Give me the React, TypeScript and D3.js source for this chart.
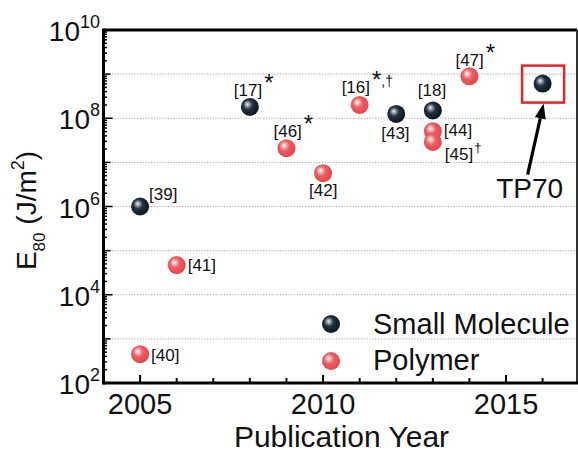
import React from "react";
import * as d3 from "d3";

// ---- data ----
const smallYears = [2005, 2008, 2012, 2013, 2016];
const smallValues = [1e6, 1.8e8, 1.25e8, 1.5e8, 6.1e8];
const smallRefs = ["[39]", "[17]", "[43]", "[18]", "TP70"];
const smallMarks = ["", "*", "", "", ""];

const polyYears = [2005, 2006, 2009, 2010, 2011, 2013, 2013, 2014];
const polyValues = [4.5e2, 4.7e4, 2.1e7, 5.7e6, 2.0e8, 5.1e7, 2.9e7, 8.9e8];
const polyRefs = ["[40]", "[41]", "[46]", "[42]", "[16]", "[44]", "[45]", "[47]"];
const polyMarks = ["", "", "*", "", "*,†", "", "†", "*"];

const xTickYears = [2005, 2010, 2015];
const yTickExps = [2, 4, 6, 8, 10];
const legendLabels = ["Small Molecule", "Polymer"];

// label offsets (text start / baseline relative to marker)
const smallOffsets: [number, number][] = [[9, -7], [-16, -11], [-15, 25], [-15, -14], [0, 0]];
const polyOffsets: [number, number][] = [[11, 7], [11, 6], [-13, -11], [-14, 23], [-18, -12], [11, 5], [12, 18], [-14, -10]];

const W = 578;
const H = 453;
const FONT = "'Liberation Sans', Arial, Helvetica, sans-serif";

export default function App() {
  const x = d3.scaleLinear().domain([2004, 2017]).range([103.5, 579.2]);
  const y = d3.scaleLog().domain([1e2, 1e10]).range([383, 30]);
  const left = x(2004);
  const right = 577;
  const top = y(1e10);
  const bottom = y(1e2);
  const R = 9;

  const gridVals = d3.range(3, 10).map((e) => Math.pow(10, e));
  const minorY: { v: number; len: number }[] = [];
  for (let e = 2; e < 10; e++) {
    for (let k = 2; k <= 9; k++) minorY.push({ v: k * Math.pow(10, e), len: 3.5 });
    if (e > 2) minorY.push({ v: Math.pow(10, e), len: e % 2 === 0 ? 9 : 7 });
  }
  const xYears = d3.range(2005, 2017);

  const tpX = x(smallYears[4]);
  const tpY = y(smallValues[4]);
  // arrow geometry relative to TP70 marker
  const tip: [number, number] = [tpX + 1, tpY + 20];
  const tail: [number, number] = [tpX - 15, tpY + 91];
  const dx = tip[0] - tail[0];
  const dy = tip[1] - tail[1];
  const L = Math.hypot(dx, dy);
  const ux = dx / L, uy = dy / L;
  const hl = 15, hw = 5.5;
  const bx = tip[0] - ux * hl, by = tip[1] - uy * hl;
  const head = `${tip[0]},${tip[1]} ${bx + uy * hw},${by - ux * hw} ${bx - uy * hw},${by + ux * hw}`;

  const renderLabel = (ref: string, mark: string, px: number, py: number, off: [number, number], key: string) => {
    if (ref === "TP70") return null;
    return (
      <text key={key} x={px + off[0]} y={py + off[1]} fontSize={17} fontFamily={FONT} fill="#111">
        {ref}
        {mark === "*" && (
          <tspan fontSize={24} dy={-5} dx={2}>*</tspan>
        )}
        {mark === "†" && (
          <tspan fontSize={13} dy={-8} dx={1}>†</tspan>
        )}
        {mark === "*,†" && (
          <>
            <tspan fontSize={24} dy={-5} dx={2}>*</tspan>
            <tspan fontSize={14} dy={-2}>,†</tspan>
          </>
        )}
      </text>
    );
  };

  return (
    <svg width={W} height={H} style={{ position: "absolute", left: 0, top: 0, background: "#fff" }}>
      <defs>
        <radialGradient id="gBlack" cx="0.42" cy="0.42" r="0.62" fx="0.36" fy="0.34">
          <stop offset="0" stopColor="#f2f2f2" />
          <stop offset="0.14" stopColor="#a9b0b6" />
          <stop offset="0.42" stopColor="#243240" />
          <stop offset="1" stopColor="#08111a" />
        </radialGradient>
        <radialGradient id="gRed" cx="0.42" cy="0.42" r="0.62" fx="0.36" fy="0.34">
          <stop offset="0" stopColor="#ffffff" />
          <stop offset="0.15" stopColor="#f7c3c5" />
          <stop offset="0.45" stopColor="#ec5d62" />
          <stop offset="1" stopColor="#e2434a" />
        </radialGradient>
      </defs>
      <rect x={0} y={0} width={W} height={H} fill="#fff" />

      {/* grid */}
      {gridVals.map((v) => (
        <line key={"g" + v} x1={left} x2={right} y1={y(v)} y2={y(v)} stroke="#a8a4a4" strokeWidth={1} strokeDasharray="1.2,1.6" />
      ))}

      {/* y ticks */}
      {minorY.map((t, i) => (
        <line key={"yt" + i} x1={left} x2={left + t.len} y1={y(t.v)} y2={y(t.v)} stroke="#000" strokeWidth={1.5} />
      ))}
      {/* x ticks */}
      {xYears.map((yr) => (
        <line key={"xt" + yr} x1={x(yr)} x2={x(yr)} y1={bottom} y2={bottom - (yr % 5 === 0 ? 8 : 5)} stroke="#000" strokeWidth={2} />
      ))}

      {/* frame */}
      <line x1={left} x2={right} y1={top} y2={top} stroke="#000" strokeWidth={3} />
      <line x1={right} x2={right} y1={top} y2={bottom} stroke="#333" strokeWidth={2} />
      <line x1={left} x2={left} y1={top - 1.5} y2={bottom + 1.5} stroke="#000" strokeWidth={3} />
      <line x1={left} x2={right + 1} y1={bottom} y2={bottom} stroke="#000" strokeWidth={3} />

      {/* y tick labels */}
      {yTickExps.map((e) => (
        <text key={"yl" + e} x={100} y={y(Math.pow(10, e)) + 11} textAnchor="end" fontFamily={FONT} fill="#111">
          <tspan fontSize={28}>10</tspan>
          <tspan fontSize={18} dy={-13}>{e}</tspan>
        </text>
      ))}

      {/* x tick labels */}
      {xTickYears.map((yr) => (
        <text key={"xl" + yr} x={x(yr)} y={414} textAnchor="middle" fontSize={29} fontFamily={FONT} fill="#111">
          {yr}
        </text>
      ))}

      {/* axis titles */}
      <text x={341.5} y={447} textAnchor="middle" fontSize={30} fontFamily={FONT} fill="#111">
        Publication Year
      </text>
      <text transform={`translate(36,${(top + bottom) / 2 + 4}) rotate(-90)`} textAnchor="middle" fontFamily={FONT} fill="#111">
        <tspan fontSize={28}>E</tspan>
        <tspan fontSize={17} dy={9}>80</tspan>
        <tspan fontSize={28} dy={-9}> (J/m</tspan>
        <tspan fontSize={18} dy={-12}>2</tspan>
        <tspan fontSize={28} dy={12}>)</tspan>
      </text>

      {/* TP70 box and arrow */}
      <rect x={tpX - 20.5} y={tpY - 18} width={42} height={37} fill="none" stroke="#e3262b" strokeWidth={2.5} />
      <line x1={tail[0]} y1={tail[1]} x2={bx} y2={by} stroke="#000" strokeWidth={3.2} />
      <polygon points={head} fill="#000" />
      <text x={tpX - 13} y={198} textAnchor="middle" fontSize={28} fontFamily={FONT} fill="#111">
        TP70
      </text>

      {/* points */}
      {polyYears.map((yr, i) => (
        <circle key={"p" + i} cx={x(yr)} cy={y(polyValues[i])} r={R} fill="url(#gRed)" />
      ))}
      {smallYears.map((yr, i) => (
        <circle key={"s" + i} cx={x(yr)} cy={y(smallValues[i])} r={R} fill="url(#gBlack)" />
      ))}

      {/* labels */}
      {polyYears.map((yr, i) => renderLabel(polyRefs[i], polyMarks[i], x(yr), y(polyValues[i]), polyOffsets[i], "pl" + i))}
      {smallYears.map((yr, i) => renderLabel(smallRefs[i], smallMarks[i], x(yr), y(smallValues[i]), smallOffsets[i], "sl" + i))}

      {/* legend */}
      <circle cx={331} cy={324} r={R} fill="url(#gBlack)" />
      <circle cx={331} cy={361} r={R} fill="url(#gRed)" />
      <text x={373} y={334} fontSize={29} fontFamily={FONT} fill="#111">{legendLabels[0]}</text>
      <text x={373} y={370} fontSize={29} fontFamily={FONT} fill="#111">{legendLabels[1]}</text>
    </svg>
  );
}
